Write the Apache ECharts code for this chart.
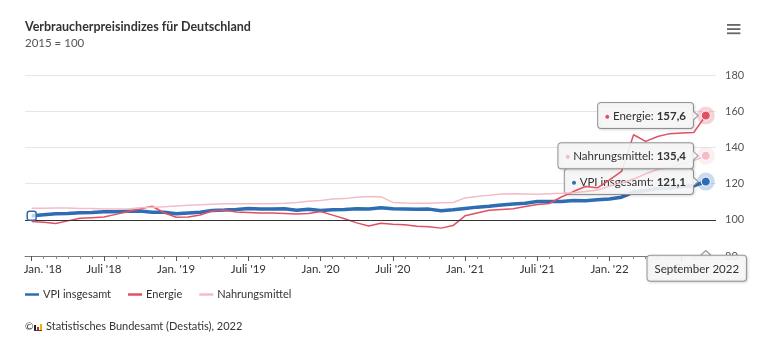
<!DOCTYPE html>
<html>
<head>
<meta charset="utf-8">
<script src="https://cdn.jsdelivr.net/npm/echarts@6/dist/echarts.min.js"></script>
<style>
  html, body { margin: 0; padding: 0; background: #fff; }
  #chart { width: 768px; height: 345px; }
</style>
</head>
<body>
<div id="chart"></div>
<script>
// Monthly consumer price indices for Germany, 2015 = 100 (Jan 2018 – Sep 2022)
const years = [2018, 2019, 2020, 2021, 2022];
const monthNames = ['Januar', 'Februar', 'März', 'April', 'Mai', 'Juni', 'Juli',
  'August', 'September', 'Oktober', 'November', 'Dezember'];
const monthCount = 57;

// Axis labels, one every six months (Jan./Juli)
const tickLabels = ["Jan. '18", "Juli '18", "Jan. '19", "Juli '19", "Jan. '20", "Juli '20",
  "Jan. '21", "Juli '21", "Jan. '22", "Juli '22"];
const yTicks = [80, 100, 120, 140, 160, 180];

const vpi = [
  102.3, 102.8, 103.3, 103.5, 103.9, 104.1, 104.4, 104.5, 104.7, 104.9, 104.2, 104.2,
  103.4, 103.8, 104.2, 105.2, 105.4, 105.7, 106.2, 106.0, 106.0, 106.1, 105.3, 105.8,
  105.2, 105.6, 105.7, 106.1, 106.0, 106.6, 106.1, 106.0, 105.8, 105.9, 105.0, 105.5,
  106.3, 107.0, 107.5, 108.2, 108.7, 109.1, 110.1, 110.1, 110.1, 110.7, 110.5, 111.1,
  111.5, 112.5, 115.3, 116.2, 117.3, 117.4, 118.4, 118.8, 121.1
];
const energie = [
  99.1, 98.6, 97.9, 99.4, 100.9, 101.2, 101.5, 103.0, 104.6, 106.0, 107.5, 103.9,
  101.4, 101.5, 102.7, 104.9, 105.4, 104.3, 104.0, 103.7, 103.7, 103.5, 103.2, 103.5,
  104.6, 102.6, 100.6, 98.3, 96.6, 98.1, 97.6, 97.2, 96.5, 96.1, 95.4, 96.8,
  102.2, 103.8, 105.3, 105.7, 106.1, 107.3, 108.4, 109.0, 112.6, 115.6, 118.4, 117.7,
  122.0, 126.7, 147.0, 143.3, 146.0, 147.6, 147.9, 148.2, 157.6
];
const nahrung = [
  106.4, 106.4, 106.5, 106.5, 106.3, 106.2, 106.0, 105.9, 106.0, 106.6, 107.0, 107.2,
  107.6, 108.0, 108.3, 108.6, 108.9, 108.9, 108.8, 108.8, 108.8, 109.1, 109.6, 110.2,
  110.7, 111.5, 111.7, 112.5, 112.9, 112.8, 109.6, 109.3, 109.2, 109.2, 109.4, 109.6,
  112.1, 112.9, 113.5, 114.3, 114.4, 114.3, 114.1, 114.4, 114.6, 114.9, 115.6, 116.4,
  118.6, 120.3, 122.5, 125.4, 127.8, 128.9, 131.0, 132.7, 135.4
];

const months = [];
years.forEach(y => monthNames.forEach(m => months.push(m + ' ' + y)));
months.length = monthCount;
const last = monthCount - 1;

const FONT = "Lato, 'Open Sans', sans-serif";
const TEXT = '#333333';
const tipBox = {
  backgroundColor: 'rgba(247,247,247,0.9)',
  borderColor: '#999999',
  borderWidth: 1,
  borderRadius: 3,
  shadowColor: 'rgba(0,0,0,0.12)',
  shadowBlur: 3,
  shadowOffsetX: 1,
  shadowOffsetY: 1
};
const fmt = v => v.toFixed(1).replace('.', ',');

const seriesDefs = [
  { name: 'VPI insgesamt', values: vpi, color: '#2e6cb4', width: 3.5 },
  { name: 'Energie', values: energie, color: '#e05064', width: 1.5 },
  { name: 'Nahrungsmittel', values: nahrung, color: '#f4bcc7', width: 1.5 }
];

const gridTop = 75, gridBottom = 89;
// plot area spans slightly wider than the first/last month
const pxLeft = 25, pxRight = 716, firstX = 31.7, lastX = 705.8;
const perMonth = (lastX - firstX) / last;
const xMin = -(firstX - pxLeft) / perMonth;
const xMax = last + (pxRight - lastX) / perMonth;

const series = seriesDefs.map((s, k) => {
  const endVal = s.values[last];
  const marks = [
    { coord: [last, endVal], symbol: 'circle', symbolSize: 18,
      itemStyle: { color: s.color, opacity: 0.25 } },
    { coord: [last, endVal], symbol: 'circle', symbolSize: 9,
      itemStyle: { color: s.color, borderColor: '#fff', borderWidth: 1 } },
    { coord: [last, endVal], symbol: 'path://M0,0L5,4.5L0,9', symbolSize: [5, 9],
      symbolOffset: [-10.2, 0],
      itemStyle: { color: 'rgb(247,247,247)', borderColor: '#999', borderWidth: 1 } }
  ];
  if (k === 0) {
    marks.push({ coord: [0, s.values[0]], symbol: 'roundRect', symbolSize: 9,
      itemStyle: { color: 'rgba(255,255,255,0.7)', borderColor: s.color, borderWidth: 1.5 } });
    marks.push({ coord: [last, yTicks[0]], symbol: 'triangle', symbolSize: [11, 5],
      symbolOffset: [0, -3],
      itemStyle: { color: 'rgb(247,247,247)', borderColor: '#999', borderWidth: 1 },
      label: Object.assign({
        show: true, position: 'bottom', distance: 0, offset: [-9, 0],
        formatter: months[last], color: TEXT, fontFamily: FONT, fontSize: 11.5,
        padding: [6, 7, 5, 7], lineHeight: 14
      }, tipBox) });
  }
  const out = {
    type: 'line',
    name: s.name,
    xAxisIndex: 0,
    yAxisIndex: 0,
    data: s.values.map((v, i) => [i, v]),
    showSymbol: false,
    symbol: 'none',
    lineStyle: { color: s.color, width: s.width },
    itemStyle: { color: s.color },
    z: 3 + k,
    endLabel: Object.assign({
      show: true,
      align: 'right',
      verticalAlign: 'middle',
      distance: -12.8,
      formatter: () => `{d|●} {t|${s.name}: }{b|${fmt(endVal)}}`,
      padding: [6, 7, 5, 7],
      rich: {
        d: { color: s.color, fontSize: 8, fontFamily: FONT },
        t: { color: TEXT, fontSize: 11.5, fontFamily: FONT, lineHeight: 14 },
        b: { color: TEXT, fontSize: 11.5, fontFamily: FONT, fontWeight: 'bold', lineHeight: 14 }
      }
    }, tipBox),
    markPoint: {
      silent: true,
      animation: false,
      z: 20,
      label: { show: false },
      data: marks
    }
  };
  if (k === 0) {
    out.markLine = {
      silent: true,
      animation: false,
      symbol: 'none',
      label: { show: false },
      lineStyle: { color: '#333', width: 1, type: 'solid' },
      data: [{ yAxis: 100 }]
    };
  }
  return out;
});

const chart = echarts.init(document.getElementById('chart'), null, { renderer: 'canvas' });
chart.setOption({
  animation: false,
  backgroundColor: '#ffffff',
  textStyle: { fontFamily: FONT },
  title: {
    text: 'Verbraucherpreisindizes für Deutschland',
    subtext: '2015 = 100',
    left: 25,
    top: 20,
    padding: 0,
    itemGap: 4,
    textStyle: { fontFamily: FONT, fontSize: 12.5, fontWeight: 'bold', color: TEXT },
    subtextStyle: { fontFamily: FONT, fontSize: 11.5, color: '#555' }
  },
  legend: {
    left: 25,
    top: 289,
    padding: 0,
    icon: 'rect',
    itemWidth: 14,
    itemHeight: 2.5,
    itemGap: 17,
    textStyle: { fontFamily: FONT, fontSize: 11, color: TEXT, padding: [0, 0, 0, -1] },
    data: seriesDefs.map(s => s.name)
  },
  grid: [
    { left: pxLeft, right: 768 - pxRight, top: gridTop, bottom: gridBottom },
    { left: firstX, right: 768 - lastX, top: gridTop, bottom: gridBottom }
  ],
  xAxis: [
    {
      type: 'value', gridIndex: 0, position: 'bottom', min: xMin, max: xMax,
      axisLine: { show: true, lineStyle: { color: '#777', width: 1 } },
      axisTick: { show: false }, axisLabel: { show: false }, splitLine: { show: false }
    },
    {
      type: 'category', gridIndex: 1, position: 'bottom', offset: 0, data: months, boundaryGap: false,
      axisLine: { show: false },
      axisTick: { show: true, interval: 0, length: 3, lineStyle: { color: '#888' } },
      axisLabel: { show: false }, splitLine: { show: false }
    },
    {
      type: 'category', gridIndex: 1, position: 'bottom', offset: 0, data: months, boundaryGap: false,
      axisLine: { show: false },
      axisTick: { show: true, interval: i => i % 6 === 0, length: 5, lineStyle: { color: '#555' } },
      axisLabel: {
        show: true,
        interval: i => i % 6 === 0,
        margin: 7,
        color: TEXT,
        fontFamily: FONT,
        fontSize: 11.5,
        formatter: (v, i) => i === 0 ? `{first|${tickLabels[0]}}` : tickLabels[i / 6],
        rich: { first: { padding: [0, 0, 0, 22], fontFamily: FONT, fontSize: 11.5, color: TEXT } }
      },
      splitLine: { show: false }
    }
  ],
  yAxis: [
    {
      type: 'value', gridIndex: 0, position: 'right',
      min: yTicks[0], max: yTicks[yTicks.length - 1], interval: yTicks[1] - yTicks[0],
      axisLine: { show: false }, axisTick: { show: false },
      axisLabel: { margin: 9, color: '#555', fontFamily: FONT, fontSize: 11 },
      splitLine: { lineStyle: { color: '#e6e6e6', width: 1 } }
    },
    {
      type: 'value', gridIndex: 1, min: yTicks[0], max: yTicks[yTicks.length - 1],
      show: false
    }
  ],
  graphic: [
    {
      type: 'group', left: 727, top: 24,
      children: [0, 1, 2].map(j => ({
        type: 'rect', shape: { x: 0, y: j * 4.2, width: 13.4, height: 1.8 },
        style: { fill: '#666' }
      }))
    },
    {
      type: 'text', left: 25, top: 322,
      style: { text: '©', fill: TEXT, font: `10px ${FONT}` }
    },
    {
      type: 'group', left: 34, top: 324,
      children: [
        { type: 'rect', shape: { x: 0, y: 1, width: 2, height: 5.5 }, style: { fill: '#222' } },
        { type: 'rect', shape: { x: 3, y: 3, width: 2, height: 3.5 }, style: { fill: '#d8232a' } },
        { type: 'rect', shape: { x: 6, y: 0, width: 2, height: 6.5 }, style: { fill: '#f0b400' } },
        { type: 'rect', shape: { x: 0, y: 6.2, width: 8, height: 0.8 }, style: { fill: '#222' } }
      ]
    },
    {
      type: 'text', left: 46, top: 320.5,
      style: { text: 'Statistisches Bundesamt (Destatis), 2022', fill: TEXT, font: `11px ${FONT}` }
    }
  ],
  series: series
});
</script>
</body>
</html>
